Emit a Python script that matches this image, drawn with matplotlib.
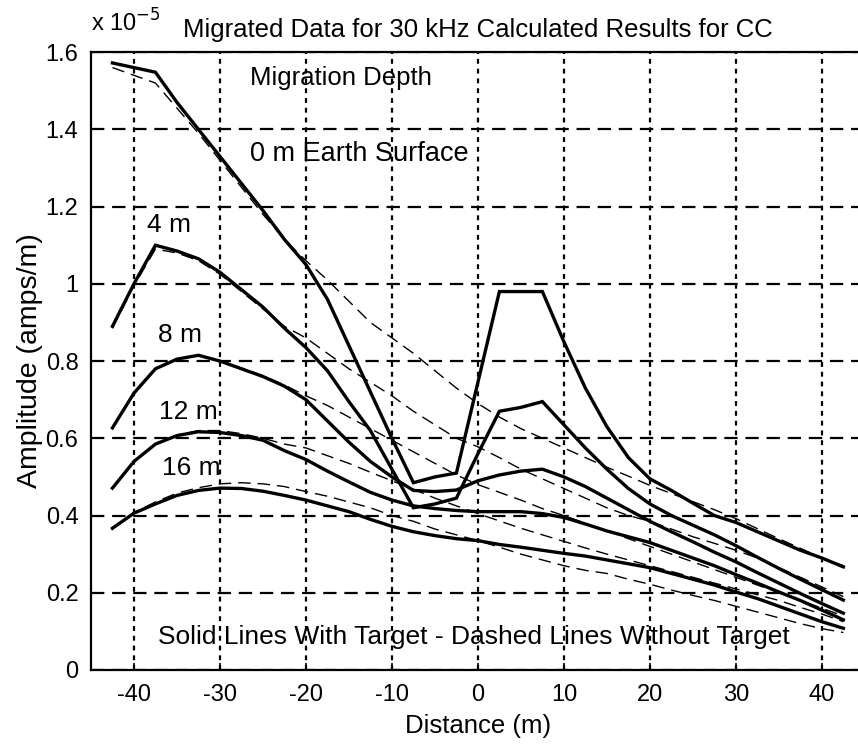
import matplotlib
matplotlib.use("Agg")
import matplotlib.pyplot as plt

plt.rcParams['font.family'] = ['Liberation Sans Narrow', 'Liberation Sans', 'DejaVu Sans']
plt.rcParams['axes.unicode_minus'] = False

# distance along the profile (m)
distance = [-42.5, -40, -37.5, -35, -32.5, -30, -27.5, -25, -22.5, -20,
            -17.5, -15, -12.5, -10, -7.5, -5, -2.5, 0, 2.5, 5,
            7.5, 10, 12.5, 15, 17.5, 20, 22.5, 25, 27.5, 30,
            32.5, 35, 37.5, 40, 42.5]

# amplitudes in units of 1e-5 amps/m, with target (solid)
with_0m = [1.572, 1.56, 1.548, 1.47, 1.40, 1.33, 1.26, 1.19, 1.115, 1.05,
           0.96, 0.84, 0.72, 0.60, 0.485, 0.50, 0.51, 0.745, 0.98, 0.98,
           0.98, 0.85, 0.73, 0.63, 0.55, 0.495, 0.465, 0.432, 0.40, 0.382,
           0.358, 0.334, 0.31, 0.29, 0.267]
with_4m = [0.89, 1.00, 1.10, 1.085, 1.065, 1.03, 0.985, 0.94, 0.885, 0.835,
           0.775, 0.695, 0.62, 0.52, 0.42, 0.43, 0.445, 0.56, 0.67, 0.68,
           0.695, 0.635, 0.575, 0.52, 0.47, 0.43, 0.40, 0.375, 0.35, 0.322,
           0.292, 0.263, 0.235, 0.208, 0.181]
with_8m = [0.627, 0.717, 0.78, 0.805, 0.815, 0.80, 0.78, 0.76, 0.735, 0.70,
           0.645, 0.59, 0.54, 0.50, 0.465, 0.462, 0.466, 0.49, 0.505, 0.515,
           0.52, 0.50, 0.475, 0.445, 0.415, 0.385, 0.358, 0.332, 0.305, 0.28,
           0.252, 0.225, 0.198, 0.172, 0.147]
with_12m = [0.471, 0.54, 0.585, 0.607, 0.617, 0.615, 0.607, 0.595, 0.568, 0.545,
            0.515, 0.487, 0.46, 0.44, 0.425, 0.418, 0.413, 0.41, 0.41, 0.41,
            0.405, 0.395, 0.378, 0.36, 0.345, 0.33, 0.31, 0.29, 0.27, 0.247,
            0.225, 0.202, 0.18, 0.155, 0.13]
with_16m = [0.367, 0.406, 0.43, 0.452, 0.465, 0.471, 0.47, 0.463, 0.452, 0.44,
            0.425, 0.41, 0.39, 0.372, 0.358, 0.348, 0.34, 0.335, 0.325, 0.318,
            0.31, 0.302, 0.295, 0.285, 0.275, 0.265, 0.25, 0.235, 0.22, 0.202,
            0.185, 0.165, 0.145, 0.125, 0.108]

# without target (dashed)
without_0m = [1.56, 1.54, 1.52, 1.455, 1.39, 1.32, 1.25, 1.18, 1.115, 1.06,
              1.01, 0.955, 0.90, 0.86, 0.82, 0.775, 0.73, 0.69, 0.655, 0.625,
              0.60, 0.575, 0.55, 0.525, 0.502, 0.478, 0.457, 0.436, 0.415, 0.392,
              0.366, 0.34, 0.315, 0.29, 0.27]
without_4m = [0.885, 0.995, 1.09, 1.08, 1.06, 1.025, 0.98, 0.935, 0.89, 0.86,
              0.82, 0.78, 0.745, 0.71, 0.67, 0.635, 0.60, 0.578, 0.55, 0.52,
              0.495, 0.47, 0.445, 0.42, 0.40, 0.385, 0.365, 0.345, 0.328, 0.31,
              0.29, 0.265, 0.24, 0.215, 0.19]
without_8m = [0.625, 0.715, 0.78, 0.805, 0.815, 0.80, 0.782, 0.762, 0.738, 0.71,
              0.685, 0.655, 0.625, 0.595, 0.565, 0.535, 0.505, 0.48, 0.46, 0.44,
              0.418, 0.40, 0.38, 0.36, 0.34, 0.32, 0.30, 0.28, 0.26, 0.24,
              0.22, 0.20, 0.18, 0.16, 0.14]
without_12m = [0.47, 0.54, 0.585, 0.608, 0.62, 0.62, 0.612, 0.60, 0.585, 0.575,
               0.555, 0.535, 0.512, 0.49, 0.468, 0.445, 0.425, 0.405, 0.386, 0.367,
               0.35, 0.333, 0.316, 0.30, 0.285, 0.27, 0.255, 0.24, 0.225, 0.21,
               0.195, 0.18, 0.162, 0.145, 0.125]
without_16m = [0.367, 0.408, 0.435, 0.458, 0.472, 0.482, 0.485, 0.482, 0.475, 0.462,
               0.45, 0.435, 0.42, 0.40, 0.385, 0.365, 0.35, 0.335, 0.318, 0.30,
               0.285, 0.27, 0.258, 0.25, 0.235, 0.222, 0.207, 0.193, 0.18, 0.165,
               0.15, 0.135, 0.12, 0.107, 0.097]

depth_labels = ['4 m', '8 m', '12 m', '16 m']
label_x = [-35.9, -34.7, -33.7, -33.3]
label_y = [1.152, 0.867, 0.668, 0.523]

fig = plt.figure(figsize=(8.58, 7.45), dpi=100)
ax = fig.add_axes([0.106, 0.1007, 0.902, 0.8293])

for y in [with_0m, with_4m, with_8m, with_12m, with_16m]:
    ax.plot(distance, y, color='black', linewidth=2.4, solid_joinstyle='miter')
for y in [without_0m, without_4m, without_8m, without_12m, without_16m]:
    ax.plot(distance, y, color='black', linewidth=1.0, linestyle=(0, (9, 5)))

ax.set_xlim(-45, 45)
ax.set_ylim(0, 1.6)
ax.set_xticks([-40, -30, -20, -10, 0, 10, 20, 30, 40])
ax.set_yticks([0, 0.2, 0.4, 0.6, 0.8, 1.0, 1.2, 1.4, 1.6])
ax.set_yticklabels(['0', '0.2', '0.4', '0.6', '0.8', '1', '1.2', '1.4', '1.6'])
ax.tick_params(direction='in', length=5, width=1.2, labelsize=17,
               top=False, right=False)
ax.tick_params(axis='x', pad=10)
ax.tick_params(axis='y', pad=9)
ax.grid(axis='x', color='black', linewidth=1.6, linestyle=(0, (2.2, 2.2)))
ax.grid(axis='y', color='black', linewidth=1.6, linestyle=(0, (6, 3.5)))
for side in ['left', 'bottom', 'top']:
    ax.spines[side].set_linewidth(1.6)
ax.spines['right'].set_visible(False)

ax.set_xlabel('Distance (m)', fontsize=18.5, labelpad=6)
ax.set_ylabel('Amplitude (amps/m)', fontsize=20.5, labelpad=2)
ax.set_title('Migrated Data for 30 kHz Calculated Results for CC',
             fontsize=18.5, pad=11)
fig.text(0.106, 0.951, r'x 10$^{-5}$', fontsize=17, ha='left', va='bottom')

ax.text(-26.5, 1.533, 'Migration Depth', fontsize=18.5, ha='left', va='center')
ax.text(-26.5, 1.336, '0 m Earth Surface', fontsize=19.5, ha='left', va='center')
for txt, lx, ly in zip(depth_labels, label_x, label_y):
    ax.text(lx, ly, txt, fontsize=19, ha='center', va='center')
ax.text(-0.5, 0.085, 'Solid Lines With Target - Dashed Lines Without Target',
        fontsize=19, ha='center', va='center')

fig.savefig('out.png', dpi=100)
